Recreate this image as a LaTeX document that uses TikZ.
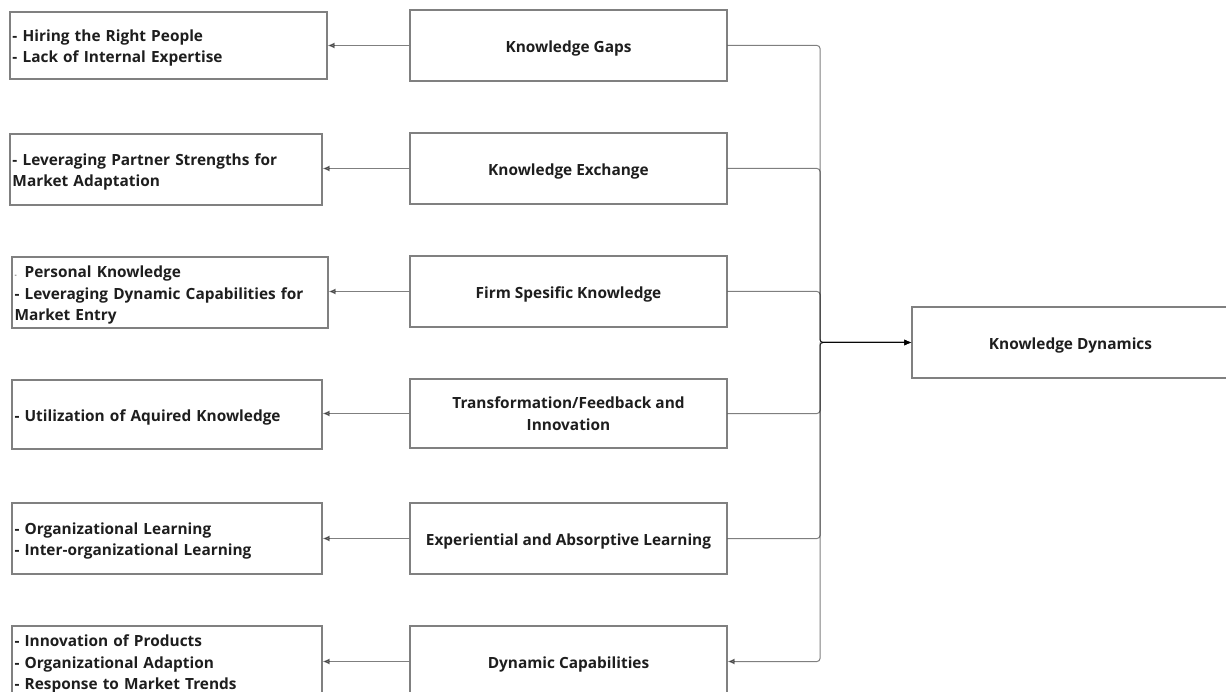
\documentclass[tikz,border=0pt]{standalone}
\usepackage{fontspec}
\setmainfont{Open Sans}
\usetikzlibrary{arrows.meta}
\definecolor{boxline}{HTML}{808080}
\definecolor{ink}{HTML}{1E1E1E}
% a tall strut on the first line sets the text slightly low in its box
\newcommand\firstlinestrut{\rule{0pt}{17pt}}
\tikzset{
  box/.style={draw=boxline, line width=1.1pt, fill=white, text=ink,
    font=\bfseries\fontsize{15.4}{21.5}\selectfont, inner sep=0pt,
    execute at begin node=\firstlinestrut},
  topic/.style={box, minimum width=317pt, minimum height=71pt, align=center},
  detail/.style={box, align=left, inner xsep=2.5pt},
  link/.style={draw=black, opacity=0.5, line width=1pt, rounded corners=3pt,
    -{Latex[length=7pt,width=6pt]}},
}
\begin{document}
\begin{tikzpicture}[x=1pt,y=-1pt]
\useasboundingbox (0,0) rectangle (1226,692);
\fill[white] (0,0) rectangle (1226,692);
\begin{scope}
\clip (0,0) rectangle (1226,692);

% central topics
\node[topic] (kg) at (568.5,45.5)  {Knowledge Gaps};
\node[topic] (ke) at (568.5,168.5) {Knowledge Exchange};
\node[topic] (fk) at (568.5,291.5) {Firm Spesific Knowledge};
\node[topic, minimum height=69pt] (tf) at (568.5,413.5) {Transformation/Feedback and\\Innovation};
\node[topic] (ea) at (568.5,538.5) {Experiential and Absorptive Learning};
\node[topic] (dc) at (568.5,661.5) {Dynamic Capabilities};

% details on the left
\node[detail, text width=312pt, minimum height=67pt] (d1) at (168.5,45.5)
  {- Hiring the Right People\\- Lack of Internal Expertise};
\node[detail, text width=307pt, minimum height=71pt] (d2) at (166,169.5)
  {- Leveraging Partner Strengths for\\Market Adaptation};
\node[detail, text width=311pt, minimum height=71pt] (d3) at (170,292.5)
  {\rlap{\mdseries\fontsize{7}{7}\selectfont -}\phantom{- }Personal Knowledge\\- Leveraging Dynamic Capabilities for\\Market Entry};
\node[detail, text width=305pt, minimum height=69pt] (d4) at (167,414.5)
  {- Utilization of Aquired Knowledge};
\node[detail, text width=305pt, minimum height=71pt] (d5) at (167,538.5)
  {- Organizational Learning\\- Inter-organizational Learning};
\node[detail, text width=305pt, minimum height=71pt] (d6) at (167,661.5)
  {- Innovation of Products\\- Organizational Adaption\\- Response to Market Trends};

% outcome
\node[topic, minimum width=317pt] (kd) at (1070.5,342.5) {Knowledge Dynamics};

\coordinate (hub) at (820,342.5);

% topic -> detail
\foreach \t/\d in {kg/d1, ke/d2, fk/d3, tf/d4, ea/d5, dc/d6}
  \draw[link] (\t.west) -- (\t.west -| \d.east);

% topics merge into the outcome
\foreach \t in {kg, ke, fk, tf, ea}
  \draw[link] (\t.east) -| (hub) -- (kd.west);

% feedback into dynamic capabilities
\draw[link] (hub) |- (dc.east);
\end{scope}
\end{tikzpicture}
\end{document}
